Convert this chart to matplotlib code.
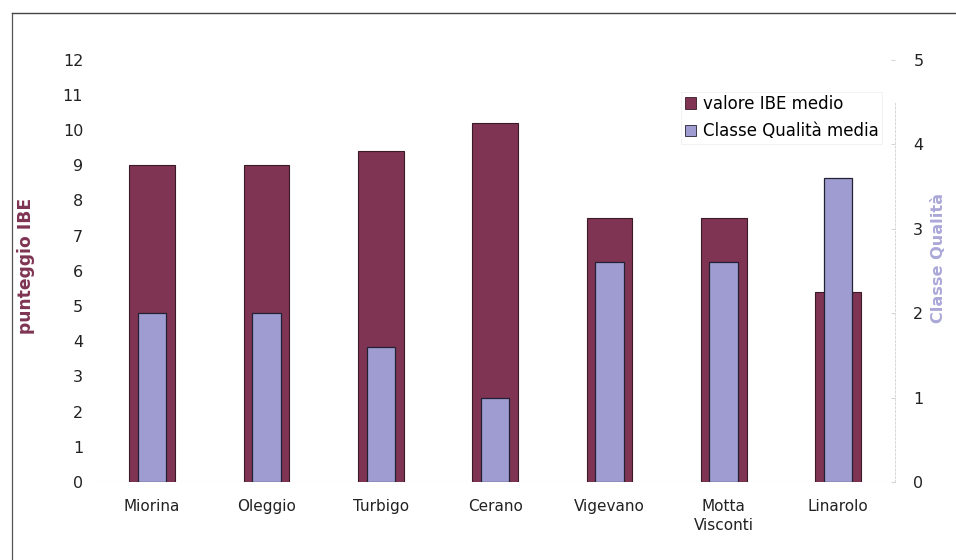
import matplotlib
matplotlib.use("Agg")
import matplotlib.pyplot as plt
import numpy as np
from matplotlib.patches import Patch
from matplotlib.lines import Line2D

stations = ["Miorina", "Oleggio", "Turbigo", "Cerano", "Vigevano", "Motta\nVisconti", "Linarolo"]
ibe_values = [9.0, 9.0, 9.4, 10.2, 7.5, 7.5, 5.4]
quality_class = [2.0, 2.0, 1.6, 1.0, 2.6, 2.6, 3.6]
left_ticks = list(range(0, 13))
right_ticks = list(range(0, 6))

MAROON = "#7E3452"
LILAC = "#9F9CD2"
LILAC_LABEL = "#ABA8D8"

plt.rcParams["font.family"] = ["DejaVu Sans"]

fig = plt.figure(figsize=(9.56, 5.6), dpi=100)
ax = fig.add_axes([0.0994, 0.1393, 0.837, 0.754])
ax2 = ax.twinx()

x = np.arange(len(stations))
ax.bar(x, ibe_values, width=0.40, color=MAROON, edgecolor="#3a1a26", linewidth=0.8, zorder=2)
ax2.bar(x, quality_class, width=0.25, color=LILAC, edgecolor="#222233", linewidth=0.9, zorder=3)

ax.set_xlim(-0.5, len(stations) - 0.5)
ax.set_ylim(0, 12)
ax2.set_ylim(0, 5)
ax.set_yticks(left_ticks)
ax2.set_yticks(right_ticks)
ax.set_xticks(x)
ax.set_xticklabels(stations, fontsize=11, color="#222222", linespacing=1.35)

for a in (ax, ax2):
    for s in a.spines.values():
        s.set_visible(False)
ax.tick_params(axis="y", length=0, pad=8.5, labelsize=11.5, labelcolor="#222222")
ax.tick_params(axis="x", length=0, pad=12)
ax2.tick_params(axis="y", direction="in", length=3, width=0.6, color="#cccccc",
                pad=13, labelsize=11.5, labelcolor="#222222")
ax2.spines["right"].set_visible(True)
ax2.spines["right"].set_color("#d8d8d8")
ax2.spines["right"].set_linestyle((0, (2, 2)))
ax2.spines["right"].set_linewidth(0.7)
ax2.spines["right"].set_bounds(0, 4.5)
ax.axhline(0, color="#dddddd", linewidth=0.8, zorder=1)

fig.text(0.027, 0.525, "punteggio IBE", rotation=90, ha="center", va="center",
         fontsize=12.3, fontweight="bold", color=MAROON)
fig.text(0.982, 0.54, "Classe Qualità", rotation=90, ha="center", va="center",
         fontsize=11.6, fontweight="bold", color=LILAC_LABEL)

handles = [Patch(facecolor=MAROON, edgecolor="#3a1a26", linewidth=0.6),
           Patch(facecolor=LILAC, edgecolor="#222233", linewidth=0.6)]
leg = fig.legend(handles, ["valore IBE medio", "Classe Qualità media"],
                 loc="upper left", bbox_to_anchor=(0.704, 0.851), frameon=True,
                 fontsize=12, handlelength=0.7, handleheight=0.7, handletextpad=0.4,
                 labelspacing=0.55, borderpad=0.2, fancybox=False)
leg.get_frame().set_edgecolor("#ececec")
leg.get_frame().set_linewidth(0.6)

# outer frame lines
fig.add_artist(Line2D([0.0125, 0.0125], [0.0, 0.977], color="#555555", linewidth=0.9))
fig.add_artist(Line2D([0.0125, 1.0], [0.977, 0.977], color="#444444", linewidth=1.0))

fig.savefig("out.png", dpi=100)
